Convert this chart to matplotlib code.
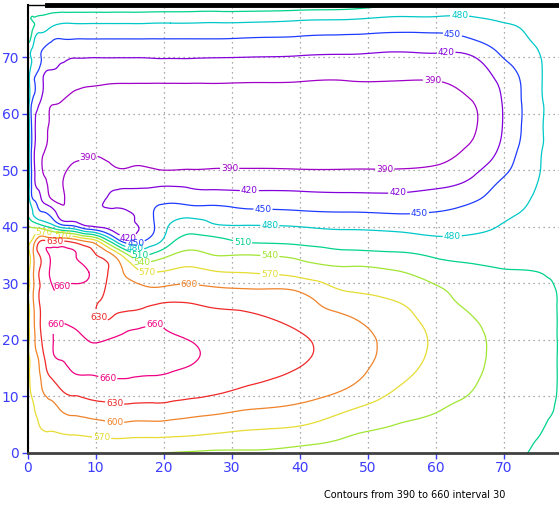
import numpy as np
import matplotlib
matplotlib.use('Agg')
import matplotlib.pyplot as plt
import matplotlib.tri as mtri

plt.rcParams['font.family'] = ['Liberation Sans Narrow', 'DejaVu Sans']

# grid nodes of the field
x_nodes = [0, 0.5, 1, 2, 3.5, 5, 7, 9, 11, 13, 15, 17, 19, 21, 24, 28, 33,
           40, 47, 54, 60, 65, 69, 72, 75, 77, 78]
y_nodes = [0, 2, 5, 8, 11, 14, 17, 20, 23, 26, 29, 32, 35, 37.5, 40, 42.5,
           45, 47.5, 50, 54, 58, 62, 66, 70, 73, 76, 79.2]

# one list per x node, values from bottom (y=0) to top
field_cols = [
    [550, 552, 556, 560, 562, 562, 562, 562, 562, 562, 562, 562, 562, 560, 545, 516, 513, 513, 513, 513, 513, 513, 513, 514, 515, 517, 525],
    [551, 555, 560, 566, 571, 574, 576, 578, 579, 580, 580, 580, 576, 568, 538, 492, 462, 458, 458, 458, 458, 459, 462, 480, 506, 514, 525],
    [552, 556, 562, 570, 578, 581, 587, 596, 600, 603, 605, 606, 606, 590, 535, 472, 445, 425, 423, 423, 425, 438, 450, 470, 480, 510, 525],
    [553, 558, 573, 585, 596, 605, 615, 628, 633, 634, 634, 635, 635, 631, 525, 452, 420, 405, 393, 398, 407, 415, 427, 450, 467, 501, 528],
    [554, 561, 575, 591, 612, 637, 654, 657, 656, 652, 657, 665, 665, 625, 500, 438, 389, 383, 381, 381, 384, 394, 410, 431, 452, 488, 535],
    [554, 562, 580, 606, 629, 648, 663, 667, 660, 650, 659, 668, 666, 628, 470, 400, 386, 388, 384, 380, 381, 389, 405, 423, 448, 481, 535],
    [554, 563, 584, 614, 637, 660, 669, 667, 655, 645, 653, 669, 661, 615, 455, 403, 397, 400, 396, 384, 379, 380, 398, 421, 448, 481, 534],
    [553, 564, 588, 618, 641, 661, 668, 659, 645, 637, 648, 660, 640, 592, 425, 408, 404, 402, 398, 386, 378, 378, 396, 421, 448, 481, 533],
    [552, 565, 592, 621, 644, 664, 670, 658, 633, 626, 634, 640, 624, 545, 415, 412, 417, 410, 401, 384, 376, 376, 395, 421, 448, 481, 533],
    [551, 565, 596, 624, 646, 665, 672, 664, 640, 625, 617, 614, 590, 472, 405, 413, 424, 414, 393, 378, 373, 374, 394, 421, 448, 481, 532],
    [549, 564, 594, 624, 646, 664, 673, 668, 650, 624, 612, 590, 535, 432, 414, 419, 432, 412, 393, 378, 373, 374, 394, 421, 448, 481, 532],
    [545, 563, 593, 623, 644, 662, 672, 670, 654, 627, 606, 570, 508, 447, 424, 432, 438, 412, 394, 378, 373, 374, 394, 421, 448, 481, 532],
    [541, 562, 594, 622, 648, 661, 670, 668, 658, 633, 603, 570, 522, 470, 456, 455, 440, 415, 391, 377, 372, 374, 394, 422, 448, 480, 531],
    [539, 561, 592, 620, 645, 659, 668, 665, 652, 635, 607, 574, 539, 502, 484, 465, 442, 416, 390, 377, 372, 374, 394, 422, 448, 480, 531],
    [537, 559, 589, 615, 641, 654, 664, 659, 646, 633, 608, 579, 549, 523, 497, 467, 436, 414, 391, 377, 372, 374, 394, 422, 448, 480, 530],
    [535, 555, 584, 610, 634, 646, 651, 650, 643, 627, 603, 571, 539, 518, 484, 463, 435, 412, 392, 377, 372, 374, 394, 421, 448, 479, 530],
    [536, 552, 578, 602, 624, 637, 642, 643, 637, 624, 600, 568, 540, 505, 482, 457, 432, 411, 392, 377, 372, 374, 393, 420, 446, 478, 529],
    [532, 546, 572, 595, 614, 627, 633, 633, 624, 611, 595, 558, 532, 502, 480, 454, 430, 410, 391, 377, 372, 374, 392, 418, 444, 474, 528],
    [526, 536, 552, 575, 597, 611, 617, 617, 606, 590, 567, 548, 519, 496, 476, 451, 428, 409, 391, 377, 372, 374, 391, 416, 442, 471, 524],
    [520, 529, 540, 555, 569, 580, 587, 588, 583, 574, 559, 542, 516, 492, 473, 448, 427, 408, 391, 378, 373, 375, 391, 413, 438, 466, 512],
    [517, 522, 532, 543, 553, 561, 565, 566, 562, 554, 544, 526, 506, 486, 469, 451, 432, 414, 395, 381, 375, 377, 391, 415, 439, 467, 504],
    [515, 518, 522, 532, 541, 546, 549, 549, 545, 535, 526, 517, 502, 487, 472, 460, 443, 426, 411, 392, 385, 388, 401, 417, 447, 470, 500],
    [514, 517, 523, 528, 532, 535, 536, 536, 533, 526, 518, 512, 502, 492, 480, 470, 461, 451, 437, 418, 412, 413, 422, 444, 462, 478, 498],
    [513, 516, 520, 524, 527, 529, 530, 530, 528, 523, 517, 511, 503, 496, 489, 479, 471, 463, 457, 449, 444, 444, 447, 462, 473, 482, 496],
    [507, 509, 513, 515, 517, 518, 519, 519, 518, 516, 513, 510, 503, 498, 494, 490, 486, 481, 477, 474, 473, 473, 474, 477, 485, 490, 495],
    [505, 506, 508, 511, 513, 514, 514, 514, 514, 513, 512, 508, 504, 501, 498, 496, 494, 492, 490, 489, 488, 488, 489, 490, 492, 494, 497],
    [503, 504, 506, 508, 509, 509, 509, 509, 509, 509, 508, 506, 503, 500, 498, 496, 494, 493, 492, 491, 490, 490, 491, 492, 493, 495, 497],
]

levels = [390, 420, 450, 480, 510, 540, 570, 600, 630, 660]
level_colors = ['#a000c8', '#8200dc', '#1e3cff', '#00c8c8', '#00d28c',
                '#a0e632', '#e6dc32', '#f08228', '#f02828', '#f00082']

# where the inline labels sit
label_spots = [(63.5, 77.2), (62.5, 74.4), (61.5, 70.7), (59.5, 65.8),
               (8.8, 52.7), (29.7, 50.3), (52.5, 50.1), (32.6, 46.1),
               (54.4, 45.8), (34.6, 43.1), (57.6, 42.2), (35.6, 40.2),
               (62.4, 38.5), (31.6, 37.3), (35.6, 34.6), (35.6, 31.8),
               (23.8, 29.9), (14.8, 38.2), (15.9, 37.2), (15.7, 35.9),
               (16.5, 34.9), (16.8, 33.8), (17.6, 31.9), (2.5, 39.0),
               (5.2, 38.4), (4.0, 37.2), (5.0, 29.5), (4.0, 22.8),
               (10.9, 24.3), (18.7, 22.4), (11.8, 13.4), (12.8, 8.8),
               (12.8, 5.5), (10.9, 2.8)]

Z = np.array(field_cols, dtype=float).T
XX, YY = np.meshgrid(x_nodes, y_nodes)
tri = mtri.Triangulation(XX.ravel(), YY.ravel())
refiner = mtri.UniformTriRefiner(tri)
tri_fine, z_fine = refiner.refine_field(Z.ravel(), subdiv=3)

fig = plt.figure(figsize=(5.59, 5.08), dpi=100)
ax = fig.add_axes([27.5 / 559, 55 / 508, 531.5 / 559, 448 / 508])

cs = ax.tricontour(tri_fine, z_fine, levels=levels, colors=level_colors,
                   linewidths=0.9)
labels = ax.clabel(cs, fmt='%d', fontsize=6.5, inline=True, inline_spacing=1,
                   manual=label_spots)
for t in labels:
    t.set_rotation(0)

ax.set_xlim(0, 78.1)
ax.set_ylim(0, 79.2)
ax.set_xticks(range(0, 80, 10))
ax.set_yticks(range(0, 80, 10))
ax.grid(True, color='#909090', linestyle=(0, (1, 3)), linewidth=0.9)
ax.tick_params(colors='#3c3cff', direction='out', length=4, width=1,
               labelsize=10, pad=2)

ax.spines['right'].set_visible(False)
ax.spines['left'].set_linewidth(1.5)
ax.spines['top'].set_linewidth(1.0)
ax.spines['bottom'].set_color('#404040')
ax.spines['bottom'].set_linewidth(2)
ax.axhline(79.2, xmin=2.8 / 78.1, xmax=1, color='black', lw=3.5,
           clip_on=False)

fig.text(0.742, 0.026, 'Contours from 390 to 660 interval 30',
         ha='center', va='center', fontsize=7, color='black')

fig.savefig('out.png', dpi=100)
